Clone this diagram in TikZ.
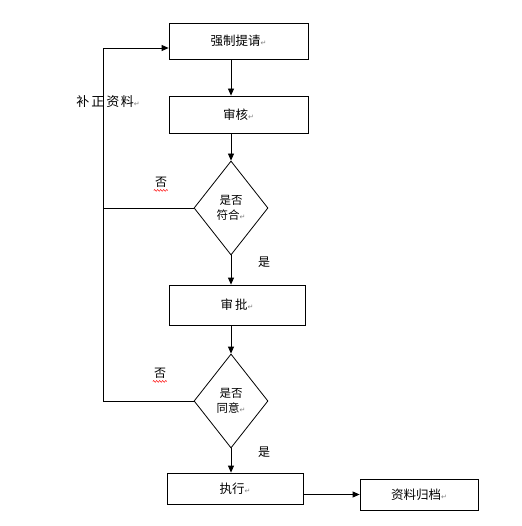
\documentclass[tikz,border=0pt]{standalone}
\usepackage{fontspec}
\setmainfont{Noto Sans CJK SC}
\newfontfamily\djv{DejaVu Sans}
\usetikzlibrary{shapes.geometric,arrows.meta,decorations.pathmorphing}
\newcommand{\parmk}{{\djv\fontsize{7}{7}\selectfont\textcolor{gray}{↵}}}
\begin{document}
\begin{tikzpicture}[x=1pt,y=-1pt,
  box/.style={draw,line width=0.8pt,inner sep=0pt,font=\fontsize{12.5}{14}\selectfont},
  dia/.style={draw,line width=0.8pt,diamond,aspect=0.79,minimum width=74pt,minimum height=94pt,inner sep=0pt,align=center,font=\fontsize{11.5}{15}\selectfont},
  lbl/.style={font=\fontsize{12}{14}\selectfont,inner sep=0pt},
  conn/.style={line width=0.8pt},
  arr/.style={line width=0.8pt,-{Triangle[length=7pt,width=6pt]}},
  wavy/.style={red,line width=0.5pt,decorate,decoration={snake,amplitude=0.8pt,segment length=3pt}}]
\useasboundingbox (0,0) rectangle (521,526);
\node[box,minimum width=139pt,minimum height=36pt] (b1) at (238.5,41) {强制提请\parmk};
\node[box,minimum width=139pt,minimum height=37pt] (b2) at (238.5,114.5) {审核\parmk};
\node[dia] (d1) at (231,208) {是否\\符合\parmk};
\node[box,minimum width=136pt,minimum height=40pt] (b3) at (237,305) {审\hspace{2pt}批\parmk};
\node[dia] (d2) at (231,401) {是否\\同意\parmk};
\node[box,minimum width=136pt,minimum height=31pt] (b4) at (235,488.5) {执行\parmk};
\node[box,minimum width=118pt,minimum height=31pt] (b5) at (419,494.5) {资料归档\parmk};
\node[lbl] (no1) at (161,182) {否};
\node[lbl] (yes1) at (264,262) {是};
\node[lbl] (no2) at (160,373) {否};
\node[lbl] (yes2) at (264,452) {是};
\node[lbl,font=\fontsize{13}{14}\selectfont] (fix) at (108,102) {补\hspace{2pt}正\hspace{2pt}资\hspace{1.5pt}料\parmk};
\draw[wavy] (no1.south west)++(-1,3) -- ++(14,0);
\draw[wavy] (no2.south west)++(-1,3) -- ++(14,0);
\coordinate (lb) at (103,401);
\coordinate (lt) at (103,48);
\draw[arr] (b1.south -| d1.north) -- (b2.north -| d1.north);
\draw[arr] (b2.south -| d1.north) -- (d1.north);
\draw[arr] (d1.south) -- (b3.north -| d1.south);
\draw[arr] (b3.south -| d2.north) -- (d2.north);
\draw[arr] (d2.south) -- (b4.north -| d2.south);
\draw[arr] (b4.east |- b5.west) -- (b5.west);
\draw[conn] (d1.west) -- (d1.west -| lb);
\draw[arr] (d2.west) -- (lb) -- (lt) -- (lt -| b1.west);
\end{tikzpicture}
\end{document}
